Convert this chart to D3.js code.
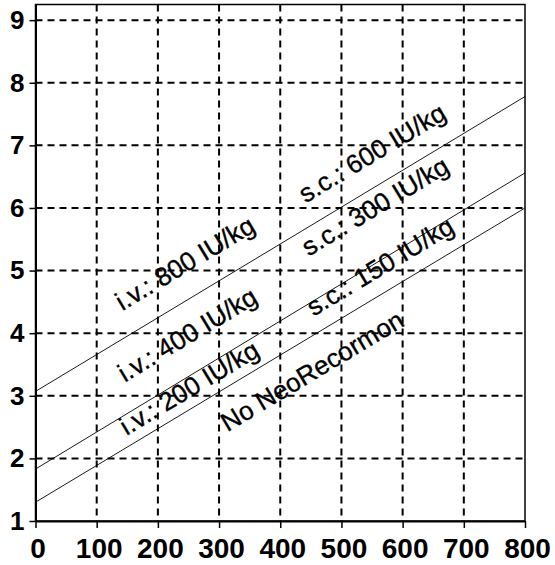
<!DOCTYPE html>
<html>
<head>
<meta charset="utf-8">
<script src="https://cdn.jsdelivr.net/npm/d3@7"></script>
<style>
  body { margin: 0; background: #fff; }
  svg { display: block; }
</style>
</head>
<body>
<div id="viz"></div>
<script>
// dose (x) and the value at both ends of each line
const doseRange = [0, 800]
const lineStart = [3.07, 1.83, 1.30]
const lineEnd = [7.78, 6.56, 6.00]

const xTicks = [0, 100, 200, 300, 400, 500, 600, 700, 800]
const yTicks = [1, 2, 3, 4, 5, 6, 7, 8, 9]

const labelText = ["i.v.: 800 IU/kg", "s.c.: 600 IU/kg", "i.v.: 400 IU/kg", "s.c.: 300 IU/kg",
                   "i.v.: 200 IU/kg", "s.c.: 150 IU/kg", "No NeoRecormon"]
const labelX = [244, 550, 248, 555, 251, 563, 452]
const labelY = [5.12, 6.88, 3.98, 6.03, 3.13, 5.07, 3.40]

const width = 555
const height = 565
const mLeft = 35.5, mRight = 525, mTop = 4.5, mBottom = 521

const x = d3.scaleLinear().domain([0, 800]).range([mLeft, mRight])
const y = d3.scaleLinear().domain([1, 9.25]).range([mBottom, mTop])

const svg = d3.select("#viz").append("svg")
    .attr("width", width)
    .attr("height", height)

// dashed grid
svg.append("g").selectAll("line")
    .data(xTicks.slice(1, -1))
    .enter().append("line")
    .attr("x1", d => x(d)).attr("x2", d => x(d))
    .attr("y1", mTop).attr("y2", mBottom)
    .attr("stroke", "#000").attr("stroke-width", 2)
    .attr("stroke-dasharray", "7,5")

svg.append("g").selectAll("line")
    .data(yTicks.slice(1))
    .enter().append("line")
    .attr("x1", mLeft).attr("x2", mRight)
    .attr("y1", d => y(d)).attr("y2", d => y(d))
    .attr("stroke", "#000").attr("stroke-width", 2)
    .attr("stroke-dasharray", "7,5")

// frame
svg.append("rect")
    .attr("x", mLeft).attr("y", mTop)
    .attr("width", mRight - mLeft).attr("height", mBottom - mTop)
    .attr("fill", "none").attr("stroke", "#000").attr("stroke-width", 1.5)

// axes
const xAxis = svg.append("g")
    .attr("transform", "translate(0," + mBottom + ")")
    .call(d3.axisBottom(x).tickValues(xTicks).tickSize(7).tickSizeOuter(0))
xAxis.select(".domain").attr("stroke-width", 2)
xAxis.selectAll(".tick line").attr("stroke-width", 1.5)
xAxis.selectAll("text")
    .attr("font-family", "Liberation Sans, Arial, sans-serif")
    .attr("font-weight", "bold")
    .attr("font-size", 28)
    .attr("fill", "#000")
    .attr("x", 2)
    .attr("y", 17)
    .attr("dy", "0.72em")

const yAxis = svg.append("g")
    .attr("transform", "translate(" + mLeft + ",0)")
    .call(d3.axisLeft(y).tickValues(yTicks).tickSize(6).tickSizeOuter(0))
yAxis.select(".domain").attr("stroke-width", 2)
yAxis.selectAll(".tick line").attr("stroke-width", 1.5)
yAxis.selectAll("text")
    .attr("font-family", "Liberation Sans, Arial, sans-serif")
    .attr("font-weight", "bold")
    .attr("font-size", 26)
    .attr("fill", "#000")
    .attr("x", -11)

// dose-response lines
const line = d3.line().x(d => x(d[0])).y(d => y(d[1]))
svg.append("g").selectAll("path")
    .data(lineStart.map((s, i) => [[doseRange[0], s], [doseRange[1], lineEnd[i]]]))
    .enter().append("path")
    .attr("d", line)
    .attr("fill", "none")
    .attr("stroke", "#000")
    .attr("stroke-width", 0.9)

// rotated labels
svg.append("g").selectAll("text")
    .data(labelText)
    .enter().append("text")
    .attr("transform", (d, i) => "translate(" + x(labelX[i]) + "," + y(labelY[i]) + ") rotate(-31)")
    .attr("text-anchor", "middle")
    .attr("dy", "0.35em")
    .attr("font-family", "Liberation Sans, Arial, sans-serif")
    .attr("font-size", 26)
    .attr("fill", "#000")
    .attr("stroke", "#000")
    .attr("stroke-width", 0.35)
    .text(d => d)
</script>
</body>
</html>
